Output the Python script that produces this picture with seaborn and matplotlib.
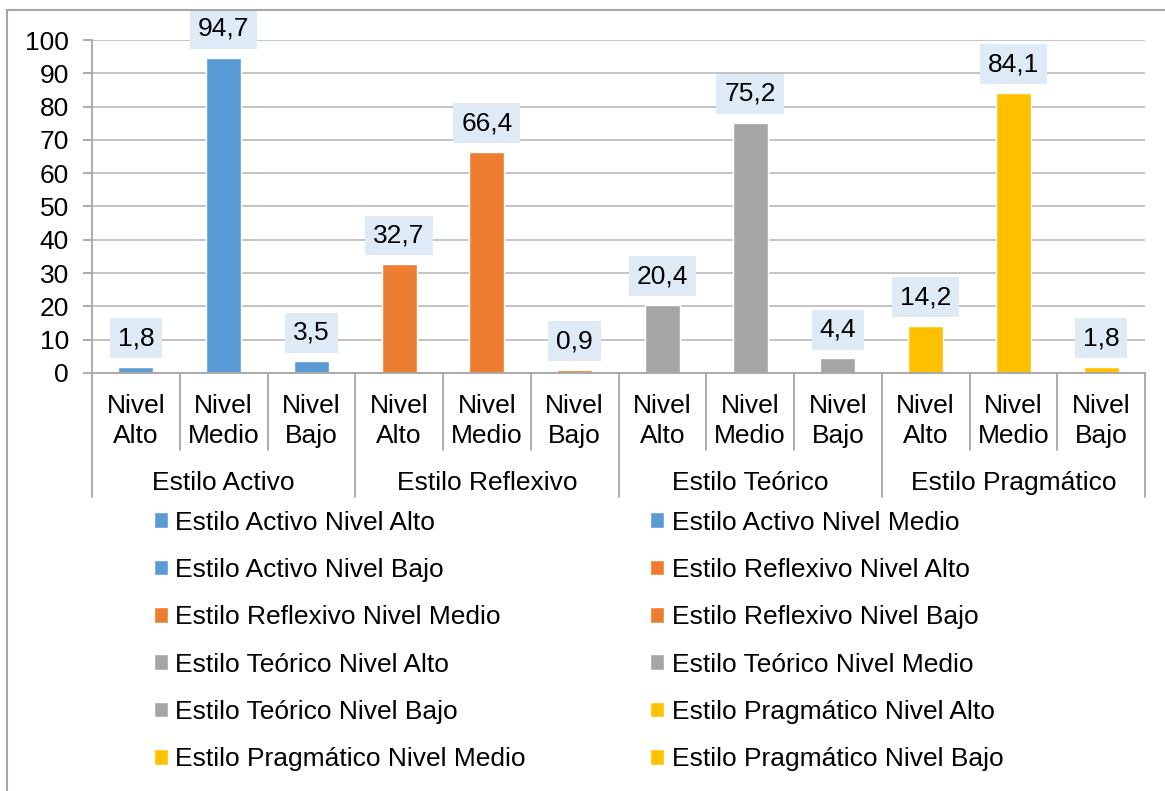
import matplotlib
matplotlib.use("Agg")
import matplotlib.pyplot as plt
import seaborn as sns
import pandas as pd
from matplotlib.lines import Line2D
from matplotlib.patches import Rectangle

# ---- data ----
styles = ["Estilo Activo", "Estilo Reflexivo", "Estilo Teórico", "Estilo Pragmático"]
levels = ["Nivel Alto", "Nivel Medio", "Nivel Bajo"]
level_ticklabels = ["Nivel\nAlto", "Nivel\nMedio", "Nivel\nBajo"]
activo = [1.8, 94.7, 3.5]
reflexivo = [32.7, 66.4, 0.9]
teorico = [20.4, 75.2, 4.4]
pragmatico = [14.2, 84.1, 1.8]
style_colors = ["#5B9BD5", "#ED7D31", "#A5A5A5", "#FFC000"]
y_ticks = [0, 10, 20, 30, 40, 50, 60, 70, 80, 90, 100]

values = activo + reflexivo + teorico + pragmatico
rows = []
for si, s in enumerate(styles):
    for li, l in enumerate(levels):
        rows.append({"serie": f"{s} {l}", "valor": values[si * 3 + li],
                     "estilo": s, "nivel": l, "color": style_colors[si]})
df = pd.DataFrame(rows)

sns.set_theme(style="white")
plt.rcParams["font.family"] = ["Liberation Sans", "DejaVu Sans"]
plt.rcParams["text.color"] = "black"
plt.rcParams["ytick.labelcolor"] = "black"
plt.rcParams["xtick.labelcolor"] = "black"
FS = 19

fig = plt.figure(figsize=(11.65, 7.91), dpi=100)
ax = fig.add_axes([92 / 1165, 1 - 373 / 791, (1145 - 92) / 1165, (373 - 40) / 791])

palette = dict(zip(df["serie"], df["color"]))
sns.barplot(data=df, x="serie", y="valor", hue="serie", palette=palette,
            dodge=False, width=0.40, ax=ax, legend=True, saturation=1)

ax.set_ylim(0, 100)
ax.set_yticks(y_ticks)
ax.set_yticklabels([str(t) for t in y_ticks], fontsize=FS, color="black")
ax.set_xlabel("")
ax.set_ylabel("")
ax.set_xticks(range(len(df)))
ax.set_xticklabels([""] * len(df))
ax.tick_params(axis="x", length=0)
ax.tick_params(axis="y", length=6.5, color="#A6A6A6", width=1.3, pad=10, left=True)
ax.grid(axis="y", color="#BFBFBF", linewidth=1.3)
ax.set_axisbelow(True)
for sp in ["top", "right"]:
    ax.spines[sp].set_visible(False)
ax.spines["left"].set_color("#A6A6A6")
ax.spines["bottom"].set_color("#A6A6A6")
ax.spines["left"].set_linewidth(1.3)
ax.spines["bottom"].set_linewidth(1.3)
ax.set_xlim(-0.5, len(df) - 0.5)

# data labels
for p, v in zip(ax.patches, df["valor"]):
    x = p.get_x() + p.get_width() / 2
    ax.annotate(f"{v:.1f}".replace(".", ","), (x, p.get_height()),
                xytext=(0, 12), textcoords="offset points", ha="center", va="bottom",
                fontsize=FS, color="black", annotation_clip=False,
                bbox=dict(boxstyle="square,pad=0.3", fc="#DEEBF7", ec="none"))

# two-level category axis
trans = ax.get_xaxis_transform()
H = 373 - 40
short_drop = -(450 - 373) / H
long_drop = -(497 - 373) / H
for i in range(len(df)):
    ax.text(i, -(421 - 373) / H, level_ticklabels[i % 3], transform=trans,
            ha="center", va="center", fontsize=FS, linespacing=1.3, color="black")
for i in range(len(df) + 1):
    b = i - 0.5
    drop = long_drop if i % 3 == 0 else short_drop
    ax.add_line(Line2D([b, b], [0, drop], transform=trans, color="#A6A6A6",
                       linewidth=1.3, clip_on=False))
for gi, s in enumerate(styles):
    ax.text(gi * 3 + 1, -(483 - 373) / H, s, transform=trans,
            ha="center", va="center", fontsize=FS, color="black")

# legend (row-major order, two columns)
handles, labels = ax.get_legend_handles_labels()
order = list(range(0, 12, 2)) + list(range(1, 12, 2))
leg = ax.legend([handles[i] for i in order], [labels[i] for i in order], ncol=2,
                loc="upper left", bbox_to_anchor=(143 / 1165, 1 - 500 / 791),
                bbox_transform=fig.transFigure, frameon=False, fontsize=FS,
                handlelength=0.53, handleheight=0.53, handletextpad=0.3, columnspacing=4.7,
                labelspacing=0.885, borderaxespad=0)
for t in leg.get_texts():
    t.set_color("black")

# outer frame
fig.patches.append(Rectangle((7 / 1165, -0.01), 1.02, 1 - 10 / 791 + 0.01, transform=fig.transFigure,
                             fill=False, ec="#A6A6A6", lw=1.5))

fig.savefig("out.png", dpi=100)
